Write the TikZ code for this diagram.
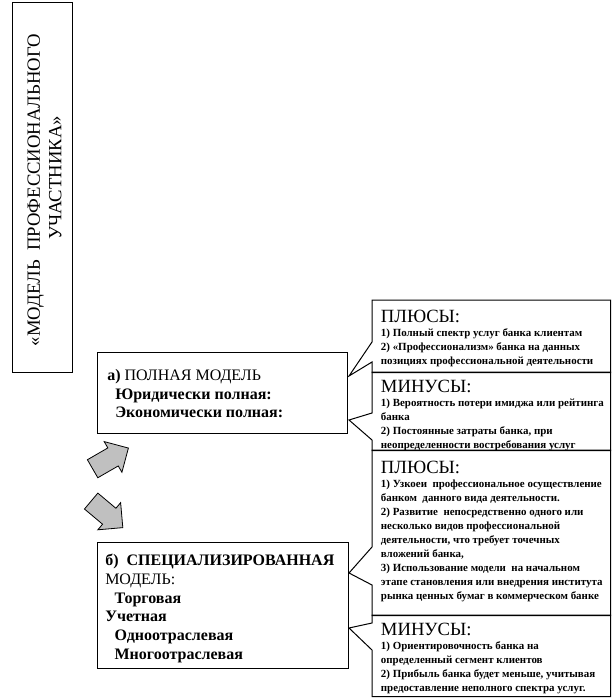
\documentclass[tikz,border=0pt]{standalone}
\usepackage{fontspec}
\setmainfont{Liberation Serif}
\usepackage{tikz}
\usetikzlibrary{positioning,calc,shapes.arrows}
\definecolor{arrowfill}{HTML}{C0C0C0}
\tikzset{
  frame/.style   ={draw, line width=0.75pt, anchor=north west, inner sep=0pt},
  side/.style    ={anchor=north west, inner sep=0pt, minimum width=178.5pt},
  % text blocks sit in the top left corner of their frames
  modeltext/.style={inner sep=0pt, align=left, font=\fontsize{12}{14}\selectfont},
  sidetext/.style ={inner sep=0pt, align=left,
                    font=\fontsize{8.2}{10.5}\selectfont\bfseries},
  titletext/.style={inner sep=0pt, align=center, rotate=90,
                    font=\fontsize{14}{16}\selectfont},
  callline/.style ={draw, line width=0.75pt, line join=miter},
  turn/.style    ={single arrow, draw, fill=arrowfill, line width=0.6pt,
                   inner sep=7.5pt, minimum height=31pt,
                   single arrow head extend=5.5pt},
}
\newcommand{\head}[1]{{\fontsize{14}{16}\selectfont\mdseries #1}}
% outline of a callout: box #1, wedge leaves the left side between #2 and #3
\newcommand{\callout}[4]{%
  \draw[callline] (#1.north west) -- (#1.north east) -- (#1.south east)
    -- (#1.south west) -- ($(#1.north west)+(0,#3)$) -- (#4)
    -- ($(#1.north west)+(0,#2)$) -- cycle;}

\begin{document}
\begin{tikzpicture}[x=0.75pt,y=-0.75pt]
\useasboundingbox (0,0) rectangle (613,698);

% --- title
\node[frame, minimum width=45pt, minimum height=277.5pt] (frame) at (12,2) {};
\node[titletext] (title) at (44.5,190)
  {«МОДЕЛЬ\ \ ПРОФЕССИОНАЛЬНОГО\\\hspace*{18pt}УЧАСТНИКА»};

% --- the two models
\node[frame, minimum width=187.5pt, minimum height=60.75pt] (full) at (97,352) {};
\node[modeltext, below right=12.75pt and 7.5pt of full.north west] (fulltext)
  {\textbf{а)} ПОЛНАЯ МОДЕЛЬ\\
   \hspace*{6pt}\textbf{Юридически полная:}\\
   \hspace*{6pt}\textbf{Экономически полная:}};

\node[frame, minimum width=188.25pt, minimum height=94.5pt] (spec) at (97,542) {};
\node[modeltext, below right=9pt and 6pt of spec.north west] (spectext)
  {\textbf{б)\ \ СПЕЦИАЛИЗИРОВАННАЯ}\\
   МОДЕЛЬ:\\
   \hspace*{7pt}\textbf{Торговая}\\
   \textbf{Учетная}\\
   \hspace*{7pt}\textbf{Одноотраслевая}\\
   \hspace*{7pt}\textbf{Многоотраслевая}};

\node[turn, rotate=30] (upturn) at (106,461) {};
\node[turn, rotate=-40] (downturn) at (103,511) {};

% --- pros and cons
\coordinate (tipA) at ($(full.north east)+(1,24)$);
\coordinate (tipB) at ($(full.north east)+(1,68)$);
\coordinate (tipC) at ($(spec.north east)+(0,31)$);
\coordinate (tipD) at ($(spec.north east)+(0,86)$);

\node[side, minimum height=54pt] (plusA) at (372,300) {};
\node[side, minimum height=58.5pt] (minusA) at (372,372) {};
\node[side, minimum height=123.75pt] (plusB) at (372,450) {};
\node[side, minimum height=60.75pt] (minusB) at (372,615) {};

\callout{plusA}{42}{62}{tipA}
\callout{minusA}{41}{68}{tipB}
\callout{plusB}{97}{135}{tipC}
\callout{minusB}{8}{35}{tipD}

\node[sidetext, below right=7.5pt and 6.5pt of plusA.north west] (plusAtext)
  {\head{ПЛЮСЫ:}\\
   1) Полный спектр услуг банка клиентам\\
   2) «Профессионализм» банка на данных\\
   позициях профессиональной деятельности};
\node[sidetext, below right=6pt and 6.5pt of minusA.north west] (minusAtext)
  {\head{МИНУСЫ:}\\
   1) Вероятность потери имиджа или рейтинга\\
   банка\\
   2) Постоянные затраты банка, при\\
   неопределенности востребования услуг};
\node[sidetext, below right=8pt and 6.5pt of plusB.north west] (plusBtext)
  {\head{ПЛЮСЫ:}\\
   1) Узкоеи\ \ профессиональное осуществление\\
   банком\ \ данного вида деятельности.\\
   2) Развитие\ \ непосредственно одного или\\
   несколько видов профессиональной\\
   деятельности, что требует точечных\\
   вложений банка,\\
   3) Использование модели\ \ на начальном\\
   этапе становления или внедрения института\\
   рынка ценных бумаг в коммерческом банке};
\node[sidetext, below right=6pt and 6.5pt of minusB.north west] (minusBtext)
  {\head{МИНУСЫ:}\\
   1) Ориентировочность банка на\\
   определенный сегмент клиентов\\
   2) Прибыль банка будет меньше, учитывая\\
   предоставление неполного спектра услуг.};
\end{tikzpicture}
\end{document}
